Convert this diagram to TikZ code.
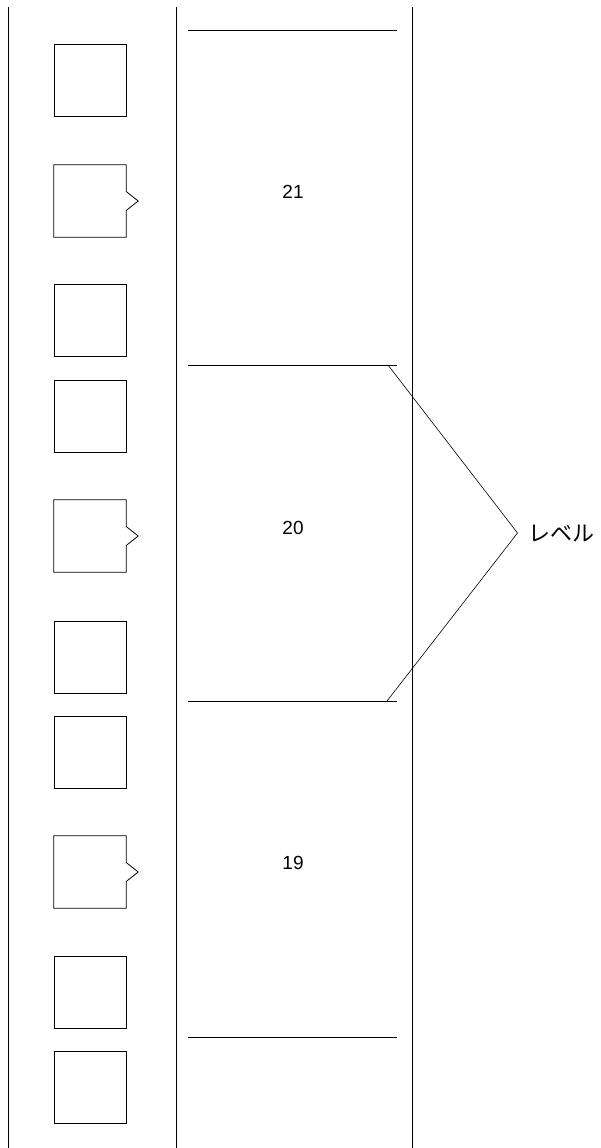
\documentclass[tikz,border=0pt]{standalone}
\usepackage{fontspec}
\setmainfont{Liberation Sans}
\newfontfamily\cjk{Noto Sans CJK JP}
\begin{document}
\begin{tikzpicture}[x=1pt,y=-1pt,
  ln/.style={line width=0.8pt,black},
  slot/.style={draw,line width=0.8pt,minimum width=72pt,minimum height=72pt,inner sep=0pt},
  nslot/.style={minimum width=72pt,minimum height=72pt,inner sep=0pt},
  num/.style={font=\fontsize{19}{22}\selectfont},
  lab/.style={font=\cjk\fontsize{22}{26}\selectfont,anchor=west,inner sep=0pt}]
\useasboundingbox (0,0) rectangle (600,1148);
% rails
\coordinate (l1) at (8,7); \coordinate (l2) at (8,1148);
\coordinate (m1) at (176,7); \coordinate (m2) at (176,1148);
\coordinate (r1) at (412,7); \coordinate (r2) at (412,1148);
\draw[ln] (l1) -- (l2);
\draw[ln] (m1) -- (m2);
\draw[ln] (r1) -- (r2);
% plain squares
\foreach \n/\y in {s1/80,s3/320,s4/416,s6/657,s7/752,s9/992,s10/1087}
  \node[slot] (\n) at (90,\y) {};
% notched squares
\foreach \n/\y in {s2/201,s5/536,s8/872}{
  \node[nslot] (\n) at (90,\y) {};
  \draw[ln,line join=miter] ([yshift=9.5pt]\n.east) -- (\n.north east) -- (\n.north west) -- (\n.south west) -- (\n.south east) -- ([yshift=-9.5pt]\n.east) -- ([xshift=12pt]\n.east) -- cycle;
}
% level lines
\foreach \n/\y in {h1/30,h2/365,h3/701,h4/1037}{
  \coordinate (\n a) at (188,\y); \coordinate (\n b) at (397,\y);
  \draw[ln] (\n a) -- (\n b);
}
% numbers
\node[num] (n21) at (293,192) {21};
\node[num] (n20) at (293,528) {20};
\node[num] (n19) at (293,863) {19};
% leader
\coordinate (la) at (388,365);
\coordinate (lb) at (387,701);
\coordinate (apex) at (517.5,533);
\node[lab] (lbl) at (528,534) {レベル};
\draw[line width=0.6pt] (la) -- (apex) -- (lb);
\end{tikzpicture}
\end{document}
